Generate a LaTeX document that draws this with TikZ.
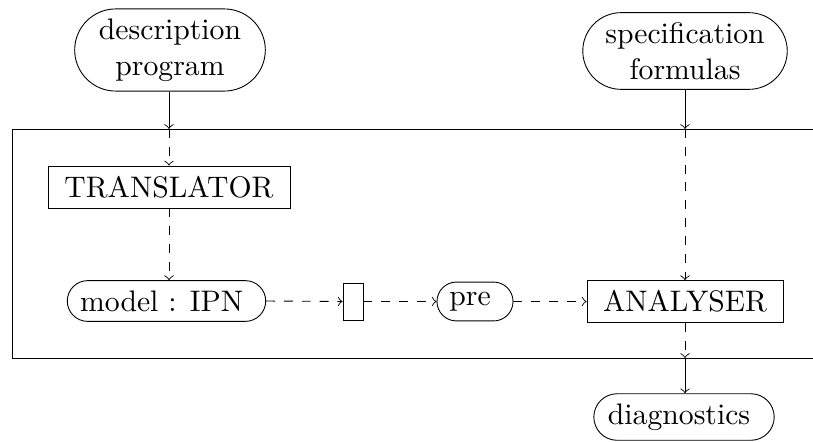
\documentclass[tikz,border=0pt]{standalone}
\usetikzlibrary{shapes.misc}
\begin{document}
\begin{tikzpicture}[x=0.3367pt,y=-0.3367pt,line width=0.3pt,
  roundbox/.style={draw,rounded rectangle,align=center},
  sqbox/.style={draw,rectangle},
  flow/.style={->},
  flowd/.style={->,dashed}]
\useasboundingbox (0,0) rectangle (813,441);
% outer frame (open on the right)
\coordinate (tl) at (12,129);
\coordinate (bl) at (12,358);
\coordinate (tr) at (813,129);
\coordinate (br) at (813,358);
\draw (tr) -- (tl) -- (bl) -- (br);
% nodes
\node[roundbox] (desc) at (170,50) {description\\program};
\node[roundbox] (spec) at (685,51) {specification\\formulas};
\node[sqbox,minimum width=242*0.3367pt,minimum height=42*0.3367pt] (trans) at (169,187) {TRANSLATOR\ };
\node[roundbox,minimum width=193*0.3367pt] (model) at (166.5,301) {model : IPN\ };
\node[sqbox,minimum width=20*0.3367pt,minimum height=37*0.3367pt,inner sep=0pt] (small) at (353,301.5) {};
\node[roundbox] (pre) at (475,301.5) {pre\ };
\node[sqbox,minimum width=196*0.3367pt,minimum height=41*0.3367pt] (anal) at (685,301.5) {ANALYSER\ };
\node[roundbox] (diag) at (684,417) {diagnostics\ };
% entry/exit points on the frame
\coordinate (inL) at (169,129);
\coordinate (inR) at (685,129);
\coordinate (outR) at (685,358);
% connectors
\draw[flow] (desc.south -| inL) -- (inL);
\draw[flowd] (inL) -- (trans.north -| inL);
\draw[flowd] (trans.south -| inL) -- (model.north -| inL);
\draw[flowd] (model.east) -- (small.west);
\draw[flowd] (small.east) -- (pre.west);
\draw[flowd] (pre.east) -- (anal.west);
\draw[flow] (spec.south -| inR) -- (inR);
\draw[flowd] (inR) -- (anal.north);
\draw[flowd] (anal.south) -- (outR);
\draw[flow] (outR) -- (diag.north -| outR);
\end{tikzpicture}
\end{document}
